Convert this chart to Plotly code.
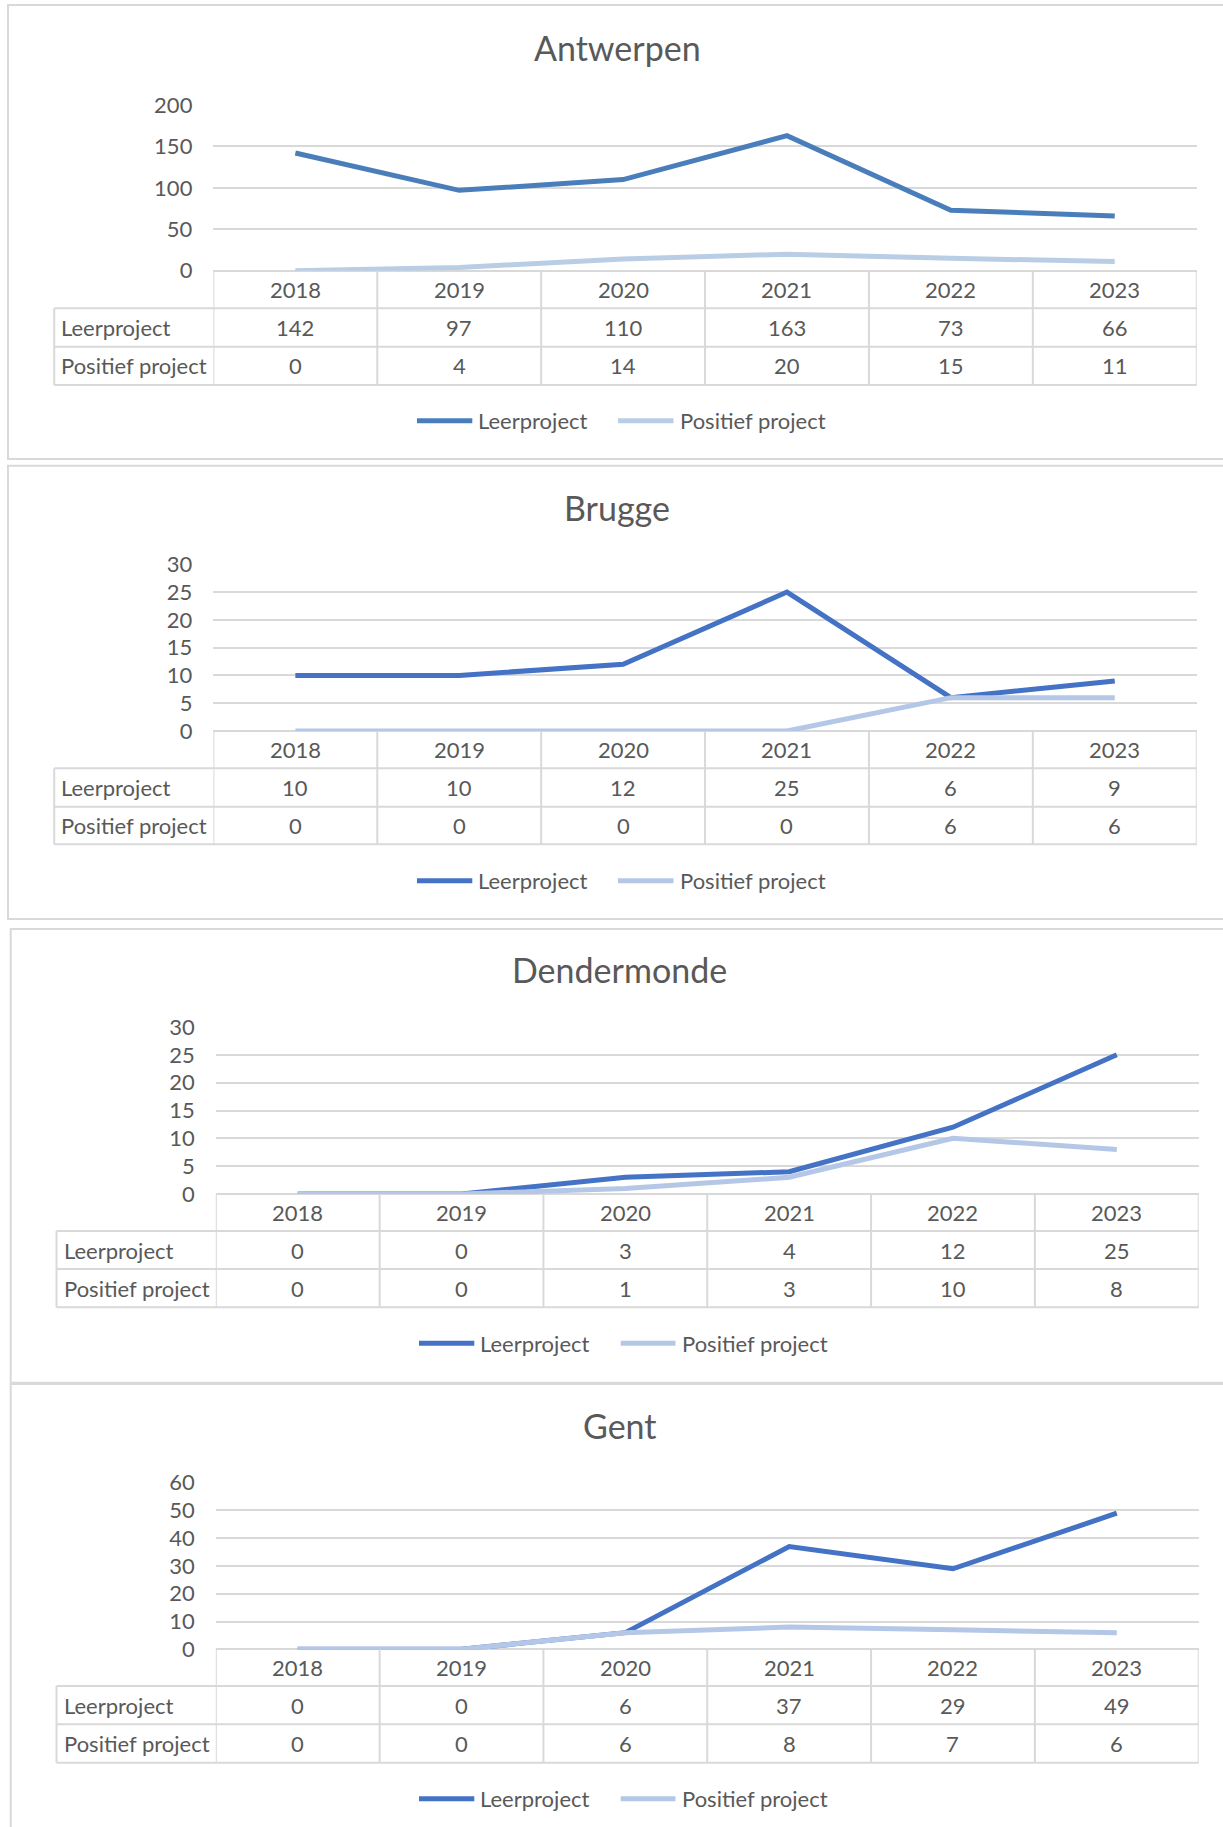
import plotly.graph_objects as go

# ---------------- data ----------------
years = ["2018", "2019", "2020", "2021", "2022", "2023"]
cities = ["Antwerpen", "Brugge", "Dendermonde", "Gent"]
series_names = ["Leerproject", "Positief project"]

leer_antwerpen = [142, 97, 110, 163, 73, 66]
pos_antwerpen = [0, 4, 14, 20, 15, 11]
leer_brugge = [10, 10, 12, 25, 6, 9]
pos_brugge = [0, 0, 0, 0, 6, 6]
leer_dendermonde = [0, 0, 3, 4, 12, 25]
pos_dendermonde = [0, 0, 1, 3, 10, 8]
leer_gent = [0, 0, 6, 37, 29, 49]
pos_gent = [0, 0, 6, 8, 7, 6]

y_max = [200, 30, 30, 60]
y_step = [50, 5, 5, 10]

leer_values = [leer_antwerpen, leer_brugge, leer_dendermonde, leer_gent]
pos_values = [pos_antwerpen, pos_brugge, pos_dendermonde, pos_gent]

# ---------------- styling / layout ----------------
W, H = 1223, 1827
FONT = "Lato"
TEXT = "#595959"
GRID = "#d9d9d9"
leer_colors = ["#4a7ebb", "#4472c4", "#4472c4", "#4472c4"]
pos_colors = ["#b9cde5", "#b4c7e7", "#b4c7e7", "#b4c7e7"]

# pixel geometry of each panel (layout, not data)
panels = [
    dict(frame_l=8, frame_t=5, frame_b=459, title_x=617, title_y=47,
         plot_l=213.4, plot_r=1196.7, lab_l=54.2, lab_tx=59.3,
         top=105, zero=270.7, hdr=308.3, row1=346.7, row2=385, leg_y=420.7,
         leg=(417, 472.3, 475.5, 618, 673.5, 677.5)),
    dict(frame_l=8, frame_t=465.7, frame_b=919, title_x=617, title_y=507,
         plot_l=213.4, plot_r=1196.7, lab_l=54.2, lab_tx=59.3,
         top=564.3, zero=731, hdr=768.3, row1=806.7, row2=844.3, leg_y=880.7,
         leg=(417, 472.3, 475.5, 618, 673.5, 677.5)),
    dict(frame_l=10.7, frame_t=929, frame_b=1382.7, title_x=619.5, title_y=969,
         plot_l=215.8, plot_r=1198.7, lab_l=56.5, lab_tx=61.5,
         top=1027, zero=1194, hdr=1231, row1=1269, row2=1307.3, leg_y=1343.3,
         leg=(419, 474.3, 478, 620.7, 675.5, 680)),
    dict(frame_l=10.7, frame_t=1384, frame_b=1900, title_x=619.5, title_y=1425.5,
         plot_l=215.8, plot_r=1198.7, lab_l=56.5, lab_tx=61.5,
         top=1482.7, zero=1649.3, hdr=1686, row1=1724.3, row2=1762.7, leg_y=1798.7,
         leg=(419, 474.3, 478, 620.7, 675.5, 680)),
]


def px(x):
    return x / W


def py(y):
    return 1 - y / H


fig = go.Figure()
shapes = []
annotations = []
layout_axes = {}

for i, (city, p) in enumerate(zip(cities, panels)):
    n = i + 1
    xa = "x" if n == 1 else f"x{n}"
    ya = "y" if n == 1 else f"y{n}"
    xkey = "xaxis" if n == 1 else f"xaxis{n}"
    ykey = "yaxis" if n == 1 else f"yaxis{n}"

    fig.add_trace(go.Scatter(x=years, y=leer_values[i], mode="lines", name=series_names[0],
                             line=dict(color=leer_colors[i], width=5), showlegend=False,
                             xaxis=xa, yaxis=ya, hoverinfo="x+y+name"))
    fig.add_trace(go.Scatter(x=years, y=pos_values[i], mode="lines", name=series_names[1],
                             line=dict(color=pos_colors[i], width=5), showlegend=False,
                             xaxis=xa, yaxis=ya, hoverinfo="x+y+name"))

    layout_axes[xkey] = dict(domain=[px(p["plot_l"]), px(p["plot_r"])], type="category",
                             categoryorder="array", categoryarray=years, automargin=False,
                             range=[-0.5, len(years) - 0.5], showgrid=False, zeroline=False,
                             showline=False, showticklabels=False, ticks="", anchor=ya,
                             fixedrange=True, title=dict(text=""))
    layout_axes[ykey] = dict(domain=[py(p["zero"]), py(p["top"])], range=[0, y_max[i]],
                             tick0=0, dtick=y_step[i], showgrid=True, gridcolor=GRID, gridwidth=1.5,
                             zeroline=True, zerolinecolor=GRID, zerolinewidth=2, automargin=False,
                             showline=False, ticks="", anchor=xa, ticklabelstandoff=20,
                             tickfont=dict(family=FONT, size=22, color=TEXT), fixedrange=True,
                             title=dict(text=""))

    # panel frame
    shapes.append(dict(type="rect", xref="paper", yref="paper",
                       x0=px(p["frame_l"]), x1=px(W + 20), y0=py(p["frame_b"]), y1=py(p["frame_t"]),
                       line=dict(color=GRID, width=2), fillcolor="rgba(0,0,0,0)", layer="below"))

    # title
    annotations.append(dict(text=city, xref="paper", yref="paper", x=px(p["title_x"]),
                            y=py(p["title_y"]), xanchor="center", yanchor="middle", showarrow=False,
                            font=dict(family=FONT, size=34, color=TEXT)))

    # data table grid
    tcol = dict(color=GRID, width=2)
    for k in range(len(years) + 1):
        shapes.append(dict(type="line", xref=xa, yref="paper", x0=k - 0.5, x1=k - 0.5,
                           y0=py(p["zero"]), y1=py(p["row2"]), line=tcol))
    shapes.append(dict(type="line", xref="paper", yref="paper", x0=px(p["lab_l"]), x1=px(p["lab_l"]),
                       y0=py(p["hdr"]), y1=py(p["row2"]), line=tcol))
    for yy in (p["hdr"], p["row1"], p["row2"]):
        shapes.append(dict(type="line", xref="paper", yref="paper", x0=px(p["lab_l"]), x1=px(p["plot_r"]),
                           y0=py(yy), y1=py(yy), line=tcol))

    # data table texts
    tf = dict(family=FONT, size=22, color=TEXT)
    row_centers = [(p["zero"] + p["hdr"]) / 2, (p["hdr"] + p["row1"]) / 2, (p["row1"] + p["row2"]) / 2]
    for j, yr in enumerate(years):
        annotations.append(dict(text=yr, xref=xa, yref="paper", x=j, y=py(row_centers[0]),
                                xanchor="center", yanchor="middle", showarrow=False, font=tf))
        annotations.append(dict(text=str(leer_values[i][j]), xref=xa, yref="paper", x=j,
                                y=py(row_centers[1]), xanchor="center", yanchor="middle",
                                showarrow=False, font=tf))
        annotations.append(dict(text=str(pos_values[i][j]), xref=xa, yref="paper", x=j,
                                y=py(row_centers[2]), xanchor="center", yanchor="middle",
                                showarrow=False, font=tf))
    for name, rc in zip(series_names, row_centers[1:]):
        annotations.append(dict(text=name, xref="paper", yref="paper", x=px(p["lab_tx"]), y=py(rc),
                                xanchor="left", yanchor="middle", showarrow=False, font=tf))

    # legend
    l1a, l1b, t1, l2a, l2b, t2 = p["leg"]
    shapes.append(dict(type="line", xref="paper", yref="paper", x0=px(l1a), x1=px(l1b),
                       y0=py(p["leg_y"]), y1=py(p["leg_y"]), line=dict(color=leer_colors[i], width=5)))
    shapes.append(dict(type="line", xref="paper", yref="paper", x0=px(l2a), x1=px(l2b),
                       y0=py(p["leg_y"]), y1=py(p["leg_y"]), line=dict(color=pos_colors[i], width=5)))
    annotations.append(dict(text=series_names[0], xref="paper", yref="paper", x=px(t1), y=py(p["leg_y"]),
                            xanchor="left", yanchor="middle", showarrow=False, font=tf))
    annotations.append(dict(text=series_names[1], xref="paper", yref="paper", x=px(t2), y=py(p["leg_y"]),
                            xanchor="left", yanchor="middle", showarrow=False, font=tf))

fig.update_layout(width=W, height=H, autosize=False,
                  margin=dict(l=0, r=0, t=0, b=0, pad=0, autoexpand=False),
                  paper_bgcolor="white", plot_bgcolor="rgba(0,0,0,0)",
                  showlegend=False, shapes=shapes, annotations=annotations,
                  font=dict(family=FONT, color=TEXT), **layout_axes)

fig.write_html("out.html", config={"displayModeBar": False},
               post_script="document.body.style.margin='0';document.body.style.padding='0';")
